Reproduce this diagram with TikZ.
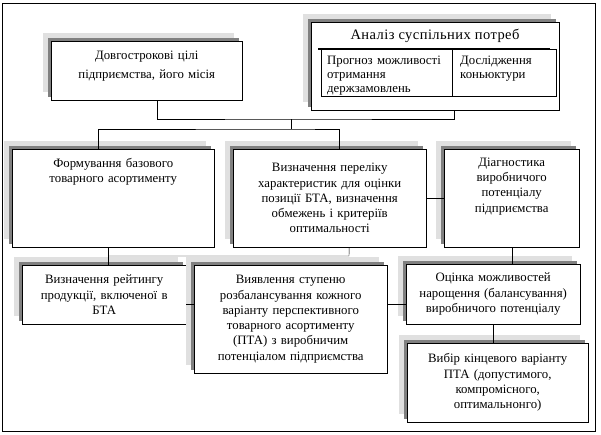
\documentclass[tikz,border=0pt]{standalone}
\usepackage{fontspec}
\setmainfont{Liberation Serif}
\usetikzlibrary{shadows}

\begin{document}
\begin{tikzpicture}[x=1pt,y=-1pt,
  blok/.style={draw,fill=white,anchor=north west,inner sep=0pt,align=center,
    general shadow={fill=black!12,shadow xshift=-8pt,shadow yshift=8pt},
    general shadow={fill=black!50,shadow xshift=-3pt,shadow yshift=3pt},
    font=\fontsize{12.8}{15.3}\selectfont},
  komirka/.style={draw,anchor=north west,inner ysep=0pt,align=left,
    font=\fontsize{12.8}{14}\selectfont}]
\useasboundingbox (0,0) rectangle (601,434);
\draw (2,3) rectangle (595,431);

\node[blok,minimum width=191pt,minimum height=59pt,text width=191pt,text height=18pt,text depth=41pt,font=\fontsize{12.8}{19}\selectfont](dovh) at (51,41){Довгострокові цілі\\підприємства, його місія};
\node[blok,minimum width=248pt,minimum height=88pt](analiz) at (311,22){};
\node[font=\fontsize{14.5}{16}\selectfont\addfontfeatures{LetterSpace=3}](tytul) at (435,36){Аналіз суспільних потреб};
\node[komirka,minimum width=131pt,minimum height=47pt,inner xsep=6pt,text width=119pt,text height=15pt,text depth=32pt](prognoz) at (321,49){Прогноз можливості\\отримання\\держзамовлень};
\node[komirka,minimum width=104pt,minimum height=47pt,inner xsep=8pt,text width=88pt,text height=15pt,text depth=32pt](konjunkt) at (452,49){Дослідження\\коньюктури};
\draw[line width=1.6pt] ([xshift=-3pt]prognoz.north west) -- ([xshift=-6pt]konjunkt.north east);

\node[blok,minimum width=202pt,minimum height=98pt,text width=202pt,text height=18pt,text depth=80pt](formuv) at (12,149){Формування базового\\товарного асортименту};
\node[blok,minimum width=193pt,minimum height=98pt,text width=193pt](perelik) at (233,149){Визначення переліку\\характеристик для оцінки\\позиції БТА, визначення\\обмежень і критеріїв\\оптимальності};
\node[blok,minimum width=135pt,minimum height=98pt,text width=135pt,text height=17pt,text depth=81pt](diagn) at (444,149){Діагностика\\виробничого\\потенціалу\\підприємства};

\node[blok,minimum width=164pt,minimum height=59pt,text width=164pt](reityng) at (22,265){Визначення рейтингу\\продукції, включеної в\\БТА};
\node[blok,minimum width=193pt,minimum height=108pt,text width=193pt](vyjavl) at (194,265){Виявлення ступеню\\розбалансування кожного\\варіанту перспективного\\товарного асортименту\\(ПТА) з виробничим\\потенціалом підприємства};
\node[blok,minimum width=174pt,minimum height=60pt,text width=174pt](otsinka) at (406,264){Оцінка можливостей\\нарощення (балансування)\\виробничого потенціалу};
\node[blok,minimum width=181pt,minimum height=79pt,text width=181pt](vybir) at (407,343){Вибір кінцевого варіанту\\ПТА (допустимого,\\компромісного,\\оптимальнонго)};

\coordinate (j1) at (291,119);
\coordinate (j3) at (349,256);
\coordinate (mid3) at (0,304);
\draw ([xshift=10.5pt]dovh.south) |- (j1) -| ([xshift=19pt]analiz.south);
\draw (j1) -- ++(0,10) coordinate (j2);
\draw ([xshift=-15pt]formuv.north) |- (j2) -| ([xshift=9.5pt]perelik.north);
\draw (perelik) -- (diagn);
\draw ([xshift=-5pt]formuv.south) -- ([xshift=4pt]reityng.north);
\draw ([xshift=-5pt]formuv.south |- j3) -- (j3) -- ([xshift=19.5pt]perelik.south);
\draw (diagn.south) -- (diagn.south |- otsinka.north);
\draw (otsinka.south) -- (otsinka.south |- vybir.north);
\draw (reityng.east |- mid3) -- (vyjavl.west |- mid3);
\draw (vyjavl.east |- mid3) -- (otsinka.west |- mid3);
\end{tikzpicture}
\end{document}
